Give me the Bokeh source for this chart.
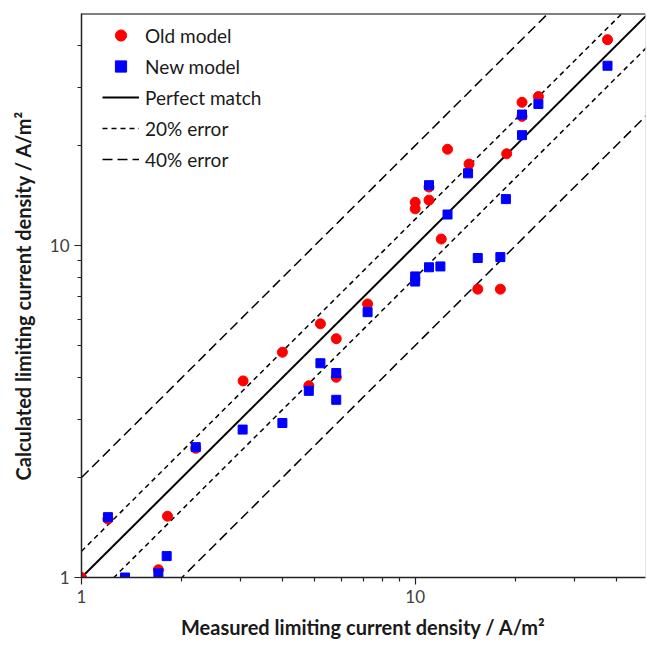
from bokeh.plotting import figure
from bokeh.models import Range1d, FixedTicker, Legend, LegendItem, Span
from bokeh.embed import file_html
from bokeh.resources import INLINE

# ---- data ----
old_x = [1.0, 1.2, 1.81, 1.7, 2.2, 3.05, 4.0, 4.8, 5.2, 5.8, 5.8, 7.2,
         10.0, 10.0, 11.0, 11.0, 11.97, 12.5, 14.5, 15.4, 18.0, 18.8,
         20.9, 20.9, 23.4, 37.7]
old_y = [1.0, 1.5, 1.53, 1.055, 2.45, 3.91, 4.77, 3.78, 5.81, 5.24, 4.01, 6.67,
         13.5, 12.9, 13.7, 15.0, 10.46, 19.5, 17.6, 7.39, 7.39, 18.9,
         27.0, 24.5, 28.1, 41.7]

new_x = [1.2, 1.35, 1.7, 1.8, 2.2, 3.04, 4.0, 4.8, 5.2, 5.8, 5.8, 7.2,
         10.0, 10.0, 11.0, 11.9, 11.0, 12.5, 14.4, 15.4, 18.0, 18.7,
         20.9, 20.9, 23.4, 37.7]
new_y = [1.52, 1.0, 1.03, 1.16, 2.47, 2.79, 2.92, 3.65, 4.42, 4.13, 3.43, 6.3,
         8.07, 7.79, 8.6, 8.65, 15.2, 12.4, 16.5, 9.17, 9.23, 13.8,
         24.8, 21.5, 26.7, 34.8]

line_x = [1.0, 50.0]
perfect_factor = 1.0
err20_factors = [1.2, 0.8]
err40_factors = [2.0, 0.5]

major_ticks = [1, 10]
major_tick_labels = ["1", "10"]
minor_ticks = [2, 3, 4, 5, 6, 7, 8, 9, 20, 30, 40]

x_limits = (1, 49)
y_limits = (1, 50)

FONT = "Lato"

p = figure(width=646, height=644, x_axis_type="log", y_axis_type="log",
           x_range=Range1d(*x_limits), y_range=Range1d(*y_limits),
           output_backend="svg", toolbar_location=None,
           min_border_left=81, min_border_right=1,
           min_border_top=13, min_border_bottom=67)

p.xgrid.visible = False
p.ygrid.visible = False
p.outline_line_color = None
p.background_fill_color = "white"
p.border_fill_color = "white"

# reference lines
r_perf = p.line(line_x, [perfect_factor * v for v in line_x],
                line_color="black", line_width=2)
r20 = []
for f in err20_factors:
    r20.append(p.line(line_x, [f * v for v in line_x], line_color="black",
                      line_width=1.5, line_dash="5 4"))
r40 = []
for f in err40_factors:
    r40.append(p.line(line_x, [f * v for v in line_x], line_color="black",
                      line_width=1.5, line_dash="10 5"))

r_old = p.scatter(old_x, old_y, marker="circle", size=10,
                  fill_color="#ff0000", line_color="#ff0000")
r_new = p.scatter(new_x, new_y, marker="square", size=9,
                  fill_color="#0000ff", line_color="#0000ff")

# frame borders
p.add_layout(Span(location=y_limits[1], dimension="width",
                  line_color="black", line_width=2))
p.add_layout(Span(location=x_limits[1], dimension="height",
                  line_color="#c8c8c8", line_width=1))

# axes
for ax in (p.xaxis[0], p.yaxis[0]):
    ax.ticker = FixedTicker(ticks=major_ticks, minor_ticks=minor_ticks)
    ax.major_label_overrides = dict(zip(major_ticks, major_tick_labels))
    ax.axis_line_color = "#222222"
    ax.axis_line_width = 1.5
    ax.major_tick_line_color = "#222222"
    ax.minor_tick_line_color = "#222222"
    ax.major_tick_line_width = 1.2
    ax.minor_tick_line_width = 1.2
    ax.major_tick_in = 0
    ax.major_tick_out = 7
    ax.minor_tick_in = 0
    ax.minor_tick_out = 4
    ax.major_label_text_font = FONT
    ax.major_label_text_font_size = "17px"
    ax.major_label_text_color = "#404040"
    ax.axis_label_text_font = FONT
    ax.axis_label_text_font_size = "20px"
    ax.axis_label_text_font_style = "bold"
    ax.axis_label_text_color = "#1a1a1a"

p.xaxis.axis_label = "Measured limiting current density / A/m²"
p.yaxis.axis_label = "Calculated limiting current density / A/m²"
p.xaxis.major_label_standoff = 5
p.xaxis.axis_label_standoff = 9
p.yaxis.major_label_standoff = 5
p.yaxis.axis_label_standoff = 12

legend = Legend(items=[
    LegendItem(label="Old model", renderers=[r_old]),
    LegendItem(label="New model", renderers=[r_new]),
    LegendItem(label="Perfect match", renderers=[r_perf]),
    LegendItem(label="20% error", renderers=[r20[0]]),
    LegendItem(label="40% error", renderers=[r40[0]]),
], location=(21, 404))
legend.padding = 0
legend.margin = 0
legend.spacing = 3
legend.glyph_width = 37
legend.glyph_height = 28
legend.label_height = 28
legend.label_standoff = 6
legend.label_text_font = FONT
legend.label_text_font_size = "19px"
legend.label_text_color = "#1a1a1a"
legend.background_fill_alpha = 0
legend.border_line_alpha = 0
p.add_layout(legend)

open("out.html", "w").write(file_html(p, INLINE))
